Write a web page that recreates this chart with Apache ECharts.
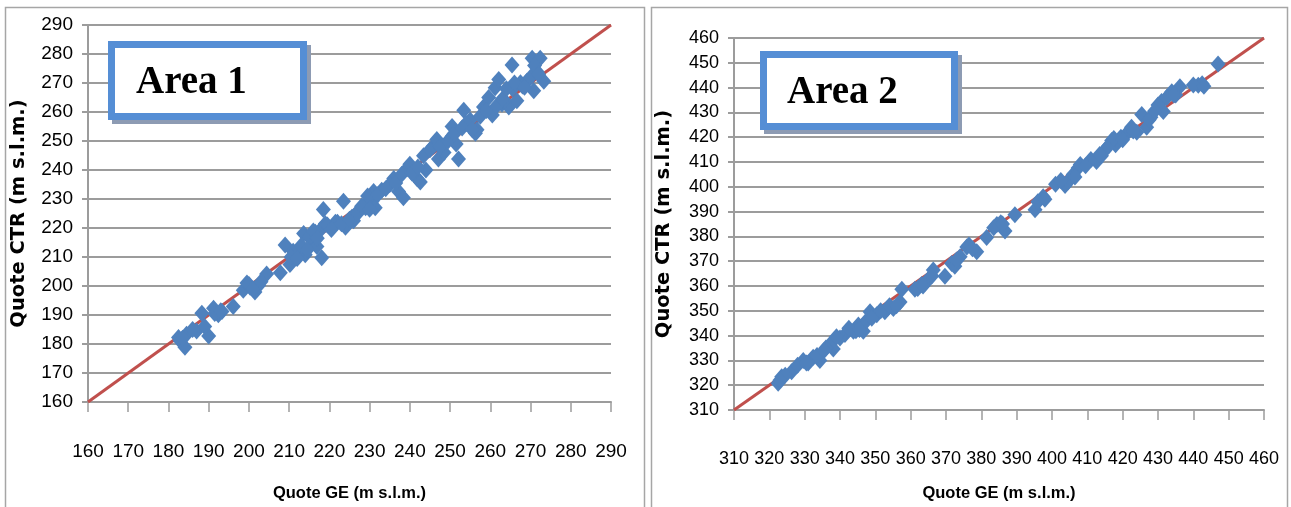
<!DOCTYPE html>
<html>
<head>
<meta charset="utf-8">
<script src="https://cdn.jsdelivr.net/npm/echarts@6/dist/echarts.min.js"></script>
<style>
  html, body { margin: 0; padding: 0; background: #fff; }
  #chart { width: 1291px; height: 507px; }
</style>
</head>
<body>
<div id="chart"></div>
<script>
// Area 1 : quote GE (x) vs quote CTR (y)
var area1GE = [182.9, 184.1, 182.5, 184.5, 187, 188.3, 190, 191.2, 192.4, 193.3, 196.1, 198.6, 200.3, 201.5, 202.4,
  204.4, 207.8, 209, 210.2, 211.9, 213.6, 214, 215.6, 216.9, 218.1, 218.5, 217.7, 220.6, 224, 225.6, 223.5, 227.2,
  228.9, 230.6, 231.4, 231, 231.4, 236, 237.2, 238.4, 239.3, 241.8, 242.6, 243.4, 245.9, 246.7, 247.1, 250.5, 250.5,
  252.1, 253.4, 255, 256.3, 256.7, 258.3, 259.6, 261.2, 262.1, 262.9, 264.6, 265.4, 266.6, 267.5, 269.1, 270.8, 270.4,
  272.4, 271.6, 273.3, 189, 199.5, 212.5, 215, 219, 222, 226, 229, 233, 235, 240, 244, 248.5, 251.5, 254, 260.5, 263.5,
  265.5, 268, 216.5, 211, 221.5, 229.5,
  183.5, 186, 191.5, 193, 200, 201, 203, 210.5, 212, 213, 214.5, 216, 217, 219.5, 220.5, 223, 225, 227, 228, 230,
  232, 234, 236.5, 238, 240.5, 242, 245, 247.5, 249.5, 251, 253, 255.5, 257.5, 259, 261.5, 263, 264, 266, 268.5, 270,
  271, 272];
var area1CTR = [181.1, 178.9, 182.2, 183.4, 184.5, 190.6, 182.8, 192.3, 190.1, 191.2, 192.9, 198.5, 199.6, 197.9, 200.2,
  204.1, 204.6, 214.1, 207.4, 209.7, 218.1, 210.8, 215.8, 213.6, 209.7, 226.4, 219.2, 220.3, 220.3, 223.7, 229.2, 225.9,
  228.1, 229.2, 230.9, 232.6, 227, 237.1, 232.6, 230.4, 240.4, 237.1, 235.9, 244.9, 248.3, 250.5, 243.8, 255, 251.6,
  243.8, 260.6, 257.2, 252.7, 253.9, 261.7, 265, 268.4, 271.2, 262.8, 261.7, 276.2, 263.9, 270.1, 270.6, 267.3, 278.5,
  278.5, 274, 270.6, 186, 201, 212, 217, 221.5, 222, 222.5, 227, 233, 235, 242, 240, 246, 249, 256, 259, 264,
  268, 269, 218.5, 212, 222, 231,
  182, 185, 190.5, 191.5, 200.5, 199, 201.5, 210, 209.5, 214, 212.5, 219, 216.5, 221, 219.5, 221.5, 223, 225, 227.5, 226.5,
  231.5, 233.5, 235.5, 238.5, 239, 241, 247, 248, 250, 252.5, 254.5, 254, 258.5, 260.5, 262, 264.5, 268, 270, 268.5, 272,
  276, 273];

// Area 2
var area2GE = [322.5, 323.5, 326.3, 329.6, 332.4, 334.3, 337.2, 338.1, 341.4, 343.8, 345.2, 346.6, 348.5, 350.4, 352.7,
  355.1, 357, 357.5, 361.2, 363.1, 365, 366.4, 369.7, 371.6, 374, 375.9, 378.7, 381.5, 384.4, 386.7, 389.5, 395.2, 397.5,
  403.7, 405.1, 407.4, 412.6, 415, 416.9, 421.1, 422.5, 425.4, 426.8, 431, 431.5, 433.9, 436.2, 441.4, 442.5, 447,
  324.5, 331, 336, 340, 344.5, 347.5, 353.5, 362, 364, 372.5, 376.5, 385.5, 396, 401, 404.5, 406, 408, 411, 414, 418,
  419.5, 424, 428, 430, 435, 440, 443,
  323, 328, 330.5, 333.5, 335.5, 339, 342.5, 345.5, 349, 351.5, 354, 356, 363.5, 366, 373, 377.5, 383.5, 386, 398,
  402.5, 406.5, 409.5, 413.5, 416, 417.5, 420, 423, 427.5, 429, 432.5, 434.5];
var area2CTR = [320.8, 323.4, 325.4, 330, 331.3, 330, 336.5, 334.6, 340.4, 341.8, 344.3, 341.8, 349.6, 348.4, 349.6,
  350.9, 353.5, 358.7, 358.7, 360.6, 362.6, 366.5, 363.9, 369.1, 371.8, 375.7, 373.8, 379.6, 384.8, 382.2, 388.7, 390.7,
  396, 400.5, 403, 407.6, 410.2, 414.8, 418.7, 421.4, 424, 429.2, 424, 434.4, 430.4, 438.3, 440.3, 440.9, 441.6, 449.5,
  324, 329, 335, 339, 342, 346, 351, 359, 361, 368, 376.5, 385.5, 394, 401, 402, 405, 409, 411, 412.5, 417,
  420, 422, 428, 433, 437, 441, 440.5,
  322, 328, 329, 332, 334, 339.5, 343, 342.5, 347, 350, 352, 352, 360, 364, 370.5, 375, 383.5, 385, 395,
  402.5, 404, 408.5, 413, 416.5, 419.5, 419, 422.5, 427, 430.5, 436, 437];

var axis1 = [160, 290];
var axis2 = [310, 460];

function pairs(xs, ys) {
  return xs.map(function (x, i) { return [x, ys[i]]; });
}

var labelFont = "'Liberation Sans', Arial, sans-serif";
var gridColor = '#9c9c9c';
var markColor = '#4f81bd';
var lineColor = '#c0504d';
var boxColor = '#558ed5';

function xAxisFor(idx, range, gap, size, margin) {
  return {
    gridIndex: idx, type: 'value', min: range[0], max: range[1], interval: 10,
    name: 'Quote GE (m s.l.m.)', nameLocation: 'middle', nameGap: gap,
    nameTextStyle: { fontFamily: labelFont, fontWeight: 'bold', fontSize: 16.5, color: '#000' },
    axisLine: { show: true, lineStyle: { color: gridColor, width: 2 } },
    axisTick: { show: true, length: 10, lineStyle: { color: gridColor, width: 1.5 } },
    axisLabel: { margin: margin, fontFamily: labelFont, fontSize: size, color: '#000' },
    splitLine: { show: false }
  };
}
function yAxisFor(idx, range, gap, size) {
  return {
    gridIndex: idx, type: 'value', min: range[0], max: range[1], interval: 10,
    name: 'Quote CTR (m s.l.m.)', nameLocation: 'middle', nameGap: gap, nameRotate: 90,
    nameTextStyle: { fontFamily: "'DejaVu Sans', sans-serif", fontWeight: 'bold', fontSize: 19.5, color: '#000' },
    axisLine: { show: true, lineStyle: { color: gridColor, width: 2 } },
    axisTick: { show: true, length: 6, lineStyle: { color: gridColor, width: 2 } },
    axisLabel: { margin: 15, fontFamily: labelFont, fontSize: size, color: '#000' },
    splitLine: { show: true, lineStyle: { color: gridColor, width: 2 } }
  };
}

function areaBox(x, y, w, h, label, tx, ty) {
  return {
    type: 'group',
    children: [
      { type: 'rect', shape: { x: x + 4, y: y + 4, width: w, height: h },
        style: { fill: 'none', stroke: '#8d9bb3', lineWidth: 7 }, z: 100 },
      { type: 'rect', shape: { x: x, y: y, width: w, height: h },
        style: { fill: '#fff', stroke: boxColor, lineWidth: 7 }, z: 101 },
      { type: 'text', x: tx, y: ty, z: 102,
        style: { text: label, fill: '#000', font: 'bold 39px "Liberation Serif", serif', textVerticalAlign: 'middle' } }
    ]
  };
}

var chart = echarts.init(document.getElementById('chart'));
chart.setOption({
  backgroundColor: '#fff',
  animation: false,
  grid: [
    { left: 88, top: 25, width: 523, height: 388 },
    { left: 734, top: 38, width: 530, height: 383 }
  ],
  xAxis: [xAxisFor(0, axis1, 83, 19, 40), xAxisFor(1, axis2, 75, 18, 40)],
  yAxis: [yAxisFor(0, axis1, 59, 19), yAxisFor(1, axis2, 60, 18)],
  graphic: [
    { type: 'rect', shape: { x: 5.5, y: 7.5, width: 639, height: 510 },
      style: { fill: 'none', stroke: '#a6a6a6', lineWidth: 1.5 }, z: -10 },
    { type: 'rect', shape: { x: 651.5, y: 7.5, width: 636, height: 510 },
      style: { fill: 'none', stroke: '#a6a6a6', lineWidth: 1.5 }, z: -10 },
    areaBox(111.5, 44.5, 192, 72, 'Area 1', 136, 83),
    areaBox(763.5, 54.5, 191, 72, 'Area 2', 787, 93)
  ],
  series: [
    { type: 'line', xAxisIndex: 0, yAxisIndex: 0, data: [[axis1[0], axis1[0]], [axis1[1], axis1[1]]],
      symbol: 'none', lineStyle: { color: lineColor, width: 3 }, z: 2 },
    { type: 'scatter', xAxisIndex: 0, yAxisIndex: 0, data: pairs(area1GE, area1CTR),
      symbol: 'diamond', symbolSize: [15, 17], itemStyle: { color: markColor, opacity: 1 }, z: 3 },
    { type: 'line', xAxisIndex: 1, yAxisIndex: 1, data: [[axis2[0], axis2[0]], [axis2[1], axis2[1]]],
      symbol: 'none', lineStyle: { color: lineColor, width: 3 }, z: 2 },
    { type: 'scatter', xAxisIndex: 1, yAxisIndex: 1, data: pairs(area2GE, area2CTR),
      symbol: 'diamond', symbolSize: [15, 17], itemStyle: { color: markColor, opacity: 1 }, z: 3 }
  ]
});
</script>
</body>
</html>
